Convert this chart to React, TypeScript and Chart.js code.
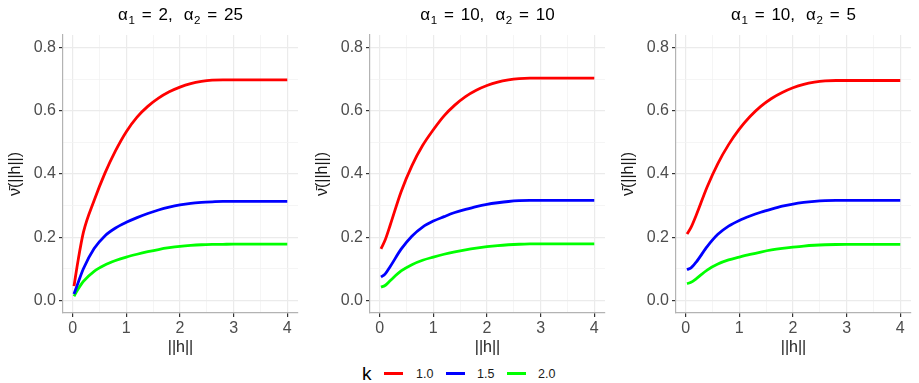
import React, { useEffect, useRef } from 'react';
import { Chart, registerables } from 'chart.js';

Chart.register(...registerables);

// ---- data ----
const hValues = [0.025, 0.1, 0.2, 0.4, 0.6, 0.8, 1.0, 1.2, 1.4, 1.6, 1.8, 2.0, 2.2, 2.4, 2.6, 2.8, 3.0, 3.5, 4.0];

const kLabels = ['1.0', '1.5', '2.0'];
const kColors = ['#FF0000', '#0000FF', '#00FF00'];

const alpha1Values = [2, 10, 10];
const alpha2Values = [25, 10, 5];

// panel 1: alpha1 = 2, alpha2 = 25
const p1k10 = [0.045, 0.125, 0.215, 0.316, 0.402, 0.474, 0.534, 0.58, 0.614, 0.64, 0.66, 0.675, 0.686, 0.693, 0.697, 0.698, 0.698, 0.698, 0.698];
const p1k15 = [0.02, 0.055, 0.1, 0.164, 0.204, 0.229, 0.247, 0.262, 0.275, 0.286, 0.295, 0.302, 0.307, 0.31, 0.312, 0.3135, 0.3135, 0.3135, 0.3135];
const p1k20 = [0.013, 0.035, 0.06, 0.092, 0.112, 0.126, 0.137, 0.146, 0.154, 0.161, 0.1666, 0.171, 0.174, 0.176, 0.177, 0.1775, 0.178, 0.178, 0.178];

// panel 2: alpha1 = 10, alpha2 = 10
const p2k10 = [0.163, 0.19, 0.24, 0.344, 0.426, 0.49, 0.54, 0.584, 0.618, 0.645, 0.665, 0.68, 0.691, 0.698, 0.702, 0.7035, 0.7035, 0.7035, 0.7035];
const p2k15 = [0.074, 0.083, 0.108, 0.162, 0.203, 0.232, 0.251, 0.265, 0.278, 0.288, 0.297, 0.304, 0.309, 0.313, 0.3155, 0.3166, 0.3167, 0.3167, 0.3167];
const p2k20 = [0.042, 0.047, 0.063, 0.093, 0.113, 0.127, 0.137, 0.146, 0.1535, 0.16, 0.1655, 0.17, 0.1735, 0.176, 0.1777, 0.1787, 0.179, 0.179, 0.179];

// panel 3: alpha1 = 10, alpha2 = 5
const p3k10 = [0.21, 0.231, 0.271, 0.359, 0.433, 0.493, 0.542, 0.582, 0.614, 0.639, 0.658, 0.673, 0.684, 0.691, 0.695, 0.696, 0.696, 0.696, 0.696];
const p3k15 = [0.097, 0.103, 0.122, 0.17, 0.209, 0.235, 0.253, 0.267, 0.279, 0.289, 0.298, 0.305, 0.31, 0.3135, 0.3157, 0.3166, 0.3167, 0.3167, 0.3167];
const p3k20 = [0.053, 0.057, 0.069, 0.096, 0.115, 0.128, 0.137, 0.1455, 0.153, 0.1595, 0.1645, 0.1685, 0.172, 0.1745, 0.176, 0.1768, 0.177, 0.177, 0.177];

const panelSeries = [
  [p1k10, p1k15, p1k20],
  [p2k10, p2k15, p2k20],
  [p3k10, p3k15, p3k20],
];

const xMajorTicks = [0, 1, 2, 3, 4];
const xMinorTicks = [0.5, 1.5, 2.5, 3.5];
const yMajorTicks = [0, 0.2, 0.4, 0.6, 0.8];
const yMinorTicks = [0.1, 0.3, 0.5, 0.7];

const xTitle = '||h||';
const yTitle = '\u03BD\u0304(||h||)';
const legendTitle = 'k';

// ---- layout ----
const FONT = "'Liberation Sans', Arial, Helvetica, sans-serif";
const CANVAS_W = 303;
const CANVAS_H = 360;
const Y_AXIS_W = 63;
const PLOT_TOP = 35;
const PLOT_BOTTOM = 313;
const panelLefts = [0, 307, 613]; // canvas left edges

const isIn = (arr: number[], v: number) => arr.some((a) => Math.abs(a - v) < 1e-9);

function makeConfig(series: number[][]): any {
  const gridColor = (major: number[]) => (ctx: any) =>
    ctx.tick && isIn(major, ctx.tick.value) ? '#EBEBEB' : '#F3F3F3';
  const gridWidth = (major: number[]) => (ctx: any) =>
    ctx.tick && isIn(major, ctx.tick.value) ? 1.2 : 0.8;
  const tickColor = (major: number[]) => (ctx: any) =>
    ctx.tick && isIn(major, ctx.tick.value) ? '#333333' : 'rgba(0,0,0,0)';

  return {
    type: 'line',
    data: {
      datasets: series.map((s, i) => ({
        label: kLabels[i],
        data: hValues.map((h, j) => ({ x: h, y: s[j] })),
        borderColor: kColors[i],
        backgroundColor: kColors[i],
        borderWidth: 2.8,
        pointRadius: 0,
        cubicInterpolationMode: 'monotone',
        fill: false,
      })),
    },
    options: {
      responsive: false,
      animation: false,
      layout: { padding: { top: PLOT_TOP, right: 5, left: 0, bottom: 0 } },
      plugins: {
        legend: { display: false },
        tooltip: { enabled: false },
        title: { display: false },
      },
      scales: {
        x: {
          type: 'linear',
          min: -0.18,
          max: 4.2,
          afterBuildTicks: (s: any) => {
            s.ticks = [...xMajorTicks, ...xMinorTicks].sort((a, b) => a - b).map((v) => ({ value: v }));
          },
          afterFit: (s: any) => {
            s.height = CANVAS_H - PLOT_BOTTOM;
          },
          ticks: {
            autoSkip: false,
            maxRotation: 0,
            padding: 2,
            color: '#4D4D4D',
            font: { family: FONT, size: 16 },
            callback: (v: any) => (isIn(xMajorTicks, Number(v)) ? String(Number(v)) : ''),
          },
          grid: {
            color: gridColor(xMajorTicks),
            lineWidth: gridWidth(xMajorTicks),
            tickColor: tickColor(xMajorTicks),
            tickLength: 4,
          },
          border: { color: '#B3B3B3', width: 1.2 },
          title: {
            display: true,
            text: xTitle,
            color: '#1A1A1A',
            font: { family: FONT, size: 16 },
            padding: { top: 0, bottom: 3 },
          },
        },
        y: {
          type: 'linear',
          min: -0.04,
          max: 0.84,
          afterBuildTicks: (s: any) => {
            s.ticks = [...yMajorTicks, ...yMinorTicks].sort((a, b) => a - b).map((v) => ({ value: v }));
          },
          afterFit: (s: any) => {
            s.width = Y_AXIS_W;
          },
          ticks: {
            autoSkip: false,
            padding: 3,
            color: '#4D4D4D',
            font: { family: FONT, size: 16 },
            callback: (v: any) => (isIn(yMajorTicks, Number(v)) ? Number(v).toFixed(1) : ''),
          },
          grid: {
            color: gridColor(yMajorTicks),
            lineWidth: gridWidth(yMajorTicks),
            tickColor: tickColor(yMajorTicks),
            tickLength: 4,
          },
          border: { color: '#B3B3B3', width: 1.2 },
          title: {
            display: true,
            text: yTitle,
            color: '#1A1A1A',
            font: { family: FONT, size: 16 },
            padding: { top: 6, bottom: 0 },
          },
        },
      },
    },
  };
}

const subStyle: React.CSSProperties = {
  fontSize: '0.68em',
  position: 'relative',
  top: '0.35em',
  verticalAlign: 'baseline',
  marginLeft: '0.05em',
};

function PanelTitle({ a1, a2 }: { a1: number; a2: number }) {
  return (
    <span>
      α<span style={subStyle}>1</span>
      <span style={{ margin: '0 0.4em' }}>=</span>
      {a1},<span style={{ marginLeft: '0.65em' }}>α</span>
      <span style={subStyle}>2</span>
      <span style={{ margin: '0 0.4em' }}>=</span>
      {a2}
    </span>
  );
}

export default function App() {
  const refs = [useRef<HTMLCanvasElement>(null), useRef<HTMLCanvasElement>(null), useRef<HTMLCanvasElement>(null)];

  useEffect(() => {
    const charts = refs.map((r, i) => new Chart(r.current as HTMLCanvasElement, makeConfig(panelSeries[i])));
    return () => charts.forEach((c) => c.destroy());
  }, []);

  const legendLineLefts = [384, 445.5, 507];
  const legendLabelLefts = [416, 477, 538];

  return (
    <div
      style={{
        position: 'absolute',
        left: 0,
        top: 0,
        width: 919,
        height: 383,
        background: '#FFFFFF',
        overflow: 'hidden',
        fontFamily: FONT,
      }}
    >
      {panelLefts.map((left, i) => (
        <React.Fragment key={i}>
          <canvas
            ref={refs[i]}
            width={CANVAS_W}
            height={CANVAS_H}
            style={{ position: 'absolute', left, top: 0, width: CANVAS_W, height: CANVAS_H }}
          />
          <div
            style={{
              position: 'absolute',
              left: left + Y_AXIS_W,
              width: CANVAS_W - Y_AXIS_W - 5,
              top: 4,
              height: 22,
              lineHeight: '22px',
              textAlign: 'center',
              fontSize: 17,
              color: '#000000',
              whiteSpace: 'nowrap',
            }}
          >
            <PanelTitle a1={alpha1Values[i]} a2={alpha2Values[i]} />
          </div>
        </React.Fragment>
      ))}
      <div
        style={{
          position: 'absolute',
          left: 362,
          top: 362,
          height: 24,
          lineHeight: '24px',
          fontSize: 19,
          color: '#000000',
        }}
      >
        {legendTitle}
      </div>
      {kLabels.map((lab, i) => (
        <React.Fragment key={lab}>
          <div
            style={{
              position: 'absolute',
              left: legendLineLefts[i],
              top: 372,
              width: 19,
              height: 3,
              background: kColors[i],
            }}
          />
          <div
            style={{
              position: 'absolute',
              left: legendLabelLefts[i],
              top: 364,
              height: 20,
              lineHeight: '20px',
              fontSize: 12.5,
              color: '#1A1A1A',
            }}
          >
            {lab}
          </div>
        </React.Fragment>
      ))}
    </div>
  );
}
